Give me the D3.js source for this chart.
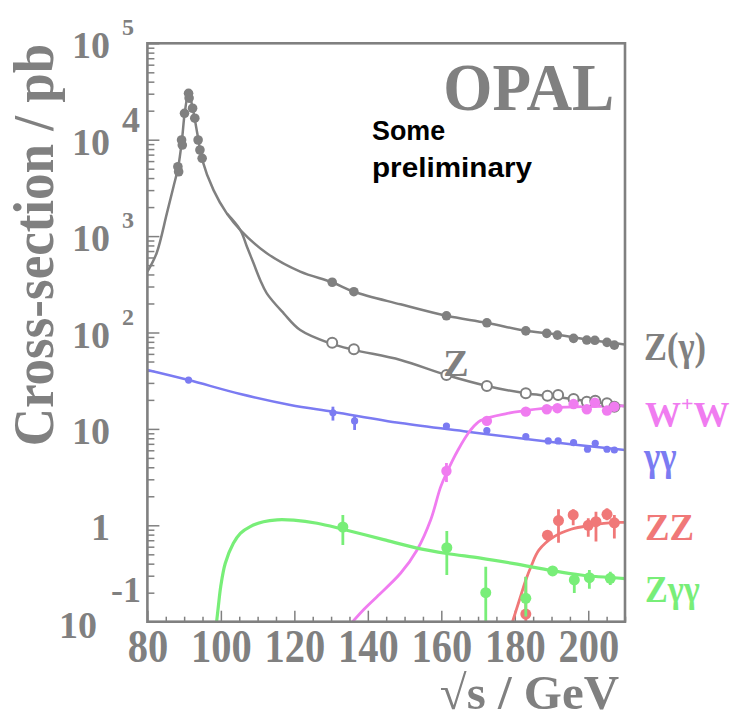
<!DOCTYPE html>
<html>
<head>
<meta charset="utf-8">
<script src="https://cdn.jsdelivr.net/npm/d3@7"></script>
<style>
  html, body { margin: 0; padding: 0; background: #fff; }
  svg { display: block; }
</style>
</head>
<body>
<script>
// Cross-sections (pb) versus centre-of-mass energy (GeV)

// Z(gamma): hadronic, inclusive of radiative return
const zgEcm = [88.3, 88.5, 89.3, 89.5, 90.1, 91.2, 91.35, 92.3, 92.9, 93.8, 94.3, 94.9,
               130.3, 136.2, 161.4, 172.4, 183.0, 188.7, 191.6, 196.0, 199.6, 201.8, 205.1, 207.1];
const zgXs  = [5250, 4650, 9930, 8800, 18800, 30300, 27000, 21200, 16700, 9930, 7820, 6410,
               332, 265, 149, 126, 104, 98, 94, 87, 83.5, 83, 79, 74];
const zgCurveEcm = [80, 82.5, 85.3, 87.1, 88.4, 89.4, 90.2, 91.2, 92.2, 93.0, 93.9, 94.8, 98.0,
                    101.6, 105.3, 112.5, 121.6, 130.3, 136.2, 148.9, 161.4, 172.4, 183, 190, 200, 210];
const zgCurveXs  = [428, 664, 1720, 3250, 5250, 9900, 19500, 30300, 22500, 15500, 9900, 6400, 3000,
                    1720, 1156, 664, 428, 332, 265, 196, 149, 126, 104, 97, 84, 75];

// Z: non-radiative
const zEcm = [130.3, 136.2, 161.4, 172.4, 183.0, 188.9, 191.8, 196.0, 199.6, 201.9, 205.1, 207.1];
const zXs  = [78.3, 67, 36.2, 27.9, 23.4, 22.1, 22.5, 20.4, 19.1, 19.6, 18.5, 17.0];
const zCurveEcm = [101.6, 105.3, 107.1, 108.9, 110.7, 112.5, 117.1, 121.6, 129.8, 136.2, 148.9, 161.4, 172.4, 183, 190, 200, 210];
const zCurveXs  = [1720, 1156, 776, 522, 351, 255, 158, 106, 77, 66, 51.9, 36.2, 27.9, 23.4, 21.8, 19.4, 17.2];

// gamma gamma
const ggEcm = [91.2, 130.5, 136.4, 161.4, 172.4, 183.0, 189.1, 191.8, 196.0, 199.8, 201.9, 205.1, 207.1];
const ggXs  = [32.1, 14.7, 12.1, 10.7, 9.6, 8.3, 7.5, 7.5, 7.2, 6.15, 7.1, 6.15, 6.04];
const ggLo  = [31.0, 12.2, 9.75, 10.2, 9.2, 8.0, 7.2, 7.2, 6.9, 5.9, 6.8, 5.9, 5.8];
const ggHi  = [33.2, 17.0, 13.6, 11.2, 10.0, 8.6, 7.8, 7.8, 7.5, 6.4, 7.4, 6.4, 6.3];
const ggCurveEcm = [80, 91.2, 105.3, 118.9, 130.7, 148.9, 167.1, 185.3, 210];
const ggCurveXs  = [40.8, 32.1, 23.0, 17.7, 15.0, 11.5, 9.35, 7.66, 6.04];

// W+W-
const wwEcm = [161.4, 172.4, 183.0, 188.7, 191.6, 196.0, 199.6, 201.8, 205.1, 207.1];
const wwXs  = [3.66, 12.1, 15.1, 16.0, 16.4, 18.1, 16.0, 18.7, 15.5, 17.0];
const wwLo  = [2.81, 11.6, 14.7, 15.6, 15.9, 17.5, 15.5, 18.0, 15.0, 16.5];
const wwHi  = [4.43, 12.6, 15.5, 16.4, 16.9, 18.7, 16.5, 19.4, 16.0, 17.5];
const wwCurveEcm = [134.8, 138.9, 142.5, 148.9, 153.4, 157.1, 159.8, 161.6, 164.4, 168.0, 170.7, 178, 183, 189.8, 198.9, 210];
const wwCurveXs  = [0.09, 0.134, 0.182, 0.318, 0.555, 1.135, 2.49, 3.6, 5.9, 9.75, 12.2, 14.5, 15.5, 16.6, 17.0, 17.3];

// ZZ
const zzEcm = [183.0, 188.9, 191.9, 195.9, 200.0, 202.1, 205.1, 207.1];
const zzXs  = [0.12, 0.79, 1.12, 1.28, 1.00, 1.09, 1.30, 1.06];
const zzLo  = [0.10, 0.68, 0.66, 1.00, 0.76, 0.68, 1.13, 0.73];
const zzHi  = [0.29, 0.89, 1.47, 1.47, 1.18, 1.38, 1.50, 1.28];
const zzCurveEcm = [179.0, 181.2, 183, 184.4, 186.6, 190.7, 195.3, 200.7, 207.1, 210];
const zzCurveXs  = [0.09, 0.165, 0.271, 0.372, 0.555, 0.762, 0.91, 1.0, 1.07, 1.07];

// Z gamma gamma
const zggEcm = [133.2, 161.5, 172.1, 183.0, 190.3, 196.2, 200.3, 206.0];
const zggXs  = [0.96, 0.586, 0.20, 0.175, 0.336, 0.271, 0.286, 0.282];
const zggLo  = [0.625, 0.305, 0.10, 0.113, 0.31, 0.199, 0.22, 0.24];
const zggHi  = [1.28, 0.873, 0.371, 0.293, 0.365, 0.32, 0.344, 0.33];
const zggCurveEcm = [98.7, 99.3, 99.95, 101.2, 103.4, 105.3, 108, 111.6, 115.3, 119.8, 126.2, 133.2,
                     144.3, 153.4, 161.5, 170.7, 179.8, 190.3, 198, 210];
const zggCurveXs  = [0.09, 0.143, 0.231, 0.404, 0.65, 0.826, 0.97, 1.09, 1.14, 1.13, 1.05, 0.91,
                     0.71, 0.58, 0.51, 0.457, 0.40, 0.338, 0.305, 0.28];

// axis ticks and labels
const xMajor = [80, 100, 120, 140, 160, 180, 200];
const yDecades = [1e5, 1e4, 1e3, 1e2, 10, 1, 0.1];
const yBase = ["10", "10", "10", "10", "10", "1", "10"];
const ySup  = ["5", "4", "3", "2", "", "", "-1"];

const GRAY = "#808080", BLUE = "#7b7bf2", PINK = "#f07cf0", RED = "#f07878", GREEN = "#78ee78";
const SERIF = "'Liberation Serif', 'Times New Roman', Times, serif";
const SANS = "'Liberation Sans', Arial, Helvetica, sans-serif";

const W = 733, H = 721;
const svg = d3.select("body").append("svg").attr("width", W).attr("height", H);

const x = d3.scaleLinear().domain([80, 210]).range([147.4, 625]);
const y = d3.scaleLog().domain([0.1, 1e5]).range([621.7, 43.3]);
const [x0, x1] = x.range();
const [yb, yt] = y.range();

// clip region for curves and points
svg.append("defs").append("clipPath").attr("id", "plot")
  .append("rect").attr("x", x0).attr("y", yt).attr("width", x1 - x0).attr("height", yb - yt);

// x ticks (inward)
const xMinor = d3.range(80, 211, 5).filter(v => !xMajor.includes(v));
svg.append("g").attr("transform", `translate(0,${yb})`)
  .call(d3.axisBottom(x).tickValues(xMinor).tickSize(-5).tickFormat(""))
  .call(g => g.select(".domain").remove())
  .selectAll("line").attr("stroke", GRAY).attr("stroke-width", 1.5);
const xAx = svg.append("g").attr("transform", `translate(0,${yb})`)
  .call(d3.axisBottom(x).tickValues(xMajor).tickSize(-11).tickFormat(d3.format("d")))
  .call(g => g.select(".domain").remove());
xAx.selectAll("line").attr("stroke", GRAY).attr("stroke-width", 1.5);
xAx.selectAll("text")
  .attr("y", 0).attr("dy", 0)
  .attr("transform", "translate(0,40) scale(0.88,1)")
  .attr("fill", GRAY).attr("font-family", SERIF).attr("font-weight", "bold").attr("font-size", 46);

// y ticks (inward)
const yMinor = y.ticks().filter(v => !yDecades.some(d => Math.abs(d - v) / d < 1e-6));
svg.append("g").attr("transform", `translate(${x0},0)`)
  .call(d3.axisLeft(y).tickValues(yMinor).tickSize(-7).tickFormat(""))
  .call(g => g.select(".domain").remove())
  .selectAll("line").attr("stroke", GRAY).attr("stroke-width", 1.5);
svg.append("g").attr("transform", `translate(${x0},0)`)
  .call(d3.axisLeft(y).tickValues(yDecades).tickSize(-12).tickFormat(""))
  .call(g => g.select(".domain").remove())
  .selectAll("line").attr("stroke", GRAY).attr("stroke-width", 1.5);

// y tick labels: 10 with exponent
const yLab = svg.append("g").attr("fill", GRAY).attr("font-family", SERIF).attr("font-weight", "bold");
yDecades.forEach((d, i) => {
  const last = d === 0.1;
  yLab.append("text")
    .attr("x", last ? 97 : 110).attr("y", y(d) + (last ? 16.5 : 15))
    .attr("text-anchor", "end").attr("font-size", 38)
    .text(yBase[i]);
  if (ySup[i]) {
    const big = ySup[i] === "4" || ySup[i] === "-1";
    yLab.append("text")
      .attr("x", last ? 111 : 122).attr("y", y(d) - (last ? 20 : 8))
      .attr("font-size", big ? 36 : 24)
      .text(ySup[i]);
  }
});

// text helper: bold serif, optionally condensed horizontally
function label(tx, ty, txt, color, size, sx, anchor, family) {
  return svg.append("text")
    .attr("transform", `translate(${tx},${ty}) scale(${sx || 1},1)`)
    .attr("text-anchor", anchor || "start")
    .attr("fill", color).attr("font-family", family || SERIF).attr("font-weight", "bold")
    .attr("font-size", size)
    .text(txt);
}

// axis titles
svg.append("text")
  .attr("transform", "translate(53,245) rotate(-90) scale(0.93,1)")
  .attr("text-anchor", "middle")
  .attr("fill", GRAY).attr("font-family", SERIF).attr("font-weight", "bold").attr("font-size", 57)
  .text("Cross-section / pb");
label(619, 709, "√s / GeV", GRAY, 48, 1.02, "end");

// curves
const plot = svg.append("g").attr("clip-path", "url(#plot)");
const line = d3.line().x(d => x(d[0])).y(d => y(d[1])).curve(d3.curveCatmullRom.alpha(0.5));
const zip = (a, b) => a.map((v, i) => [v, b[i]]);
const curves = [
  [zgCurveEcm, zgCurveXs, GRAY, 2.5],
  [zCurveEcm, zCurveXs, GRAY, 2.5],
  [ggCurveEcm, ggCurveXs, BLUE, 2.5],
  [wwCurveEcm, wwCurveXs, PINK, 2.8],
  [zzCurveEcm, zzCurveXs, RED, 2.8],
  [zggCurveEcm, zggCurveXs, GREEN, 3.2]
];
curves.forEach(([e, s, c, w]) => {
  plot.append("path").datum(zip(e, s)).attr("d", line)
    .attr("fill", "none").attr("stroke", c).attr("stroke-width", w);
});

// data points with error bars
function points(ecm, xs, lo, hi, color, r, open) {
  const g = plot.append("g");
  if (lo) {
    g.selectAll("line").data(ecm).join("line")
      .attr("x1", d => x(d)).attr("x2", d => x(d))
      .attr("y1", (d, i) => y(lo[i])).attr("y2", (d, i) => y(hi[i]))
      .attr("stroke", color).attr("stroke-width", 2.8);
  }
  g.selectAll("circle").data(ecm).join("circle")
    .attr("cx", d => x(d)).attr("cy", (d, i) => y(xs[i])).attr("r", r)
    .attr("fill", open ? "#fff" : color)
    .attr("stroke", color).attr("stroke-width", open ? 2 : 0);
}
points(zgEcm, zgXs, null, null, GRAY, 4.8, false);
points(zEcm, zXs, null, null, GRAY, 5, true);
points(ggEcm, ggXs, ggLo, ggHi, BLUE, 3.6, false);
points(wwEcm, wwXs, wwLo, wwHi, PINK, 5.2, false);
points(zzEcm, zzXs, zzLo, zzHi, RED, 5.5, false);
points(zggEcm, zggXs, zggLo, zggHi, GREEN, 5.5, false);

// frame
svg.append("rect")
  .attr("x", x0).attr("y", yt).attr("width", x1 - x0).attr("height", yb - yt)
  .attr("fill", "none").attr("stroke", GRAY).attr("stroke-width", 2.6);

// labels in and beside the frame
label(443.3, 110, "OPAL", GRAY, 68, 0.93);
label(443.3, 375.5, "Z", GRAY, 38);
label(372, 140, "Some", "#000", 28, 0.96, "start", SANS);
label(372, 177, "preliminary", "#000", 28, 1.06, "start", SANS);

label(644, 360, "Z(γ)", GRAY, 40, 0.86);
const wl = svg.append("text").attr("x", 645).attr("y", 426.7)
  .attr("fill", PINK).attr("font-family", SERIF).attr("font-weight", "bold").attr("font-size", 36);
wl.append("tspan").text("W");
wl.append("tspan").attr("font-size", 22).attr("dy", -16).text("+");
wl.append("tspan").attr("dy", 16).text("W");
label(644, 470, "γγ", BLUE, 40, 0.87);
label(645, 540, "ZZ", RED, 38, 0.97);
label(645, 601.7, "Zγγ", GREEN, 38, 0.9);
</script>
</body>
</html>
